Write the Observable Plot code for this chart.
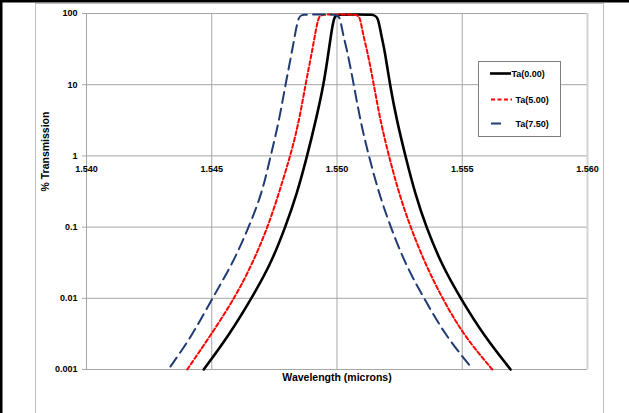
<!DOCTYPE html>
<html><head><meta charset="utf-8">
<script src="https://cdn.jsdelivr.net/npm/d3@7"></script>
<script src="https://cdn.jsdelivr.net/npm/@observablehq/plot@0.6"></script>
<style>
html,body{margin:0;padding:0;background:#fff;}
#chart{position:relative;width:629px;height:413px;overflow:hidden;background:#fff}
#chart svg{display:block}
</style>
</head><body><div id="chart"></div>
<script>
// ---- data ----
const seriesNames = ["Ta(0.00)", "Ta(5.00)", "Ta(7.50)"];
const seriesColors = ["#000000", "#ff0000", "#1f3b73"];

const ta000_wl = [1.54468, 1.54568, 1.54659, 1.54735, 1.54794, 1.54841, 1.54881, 1.54914, 1.54947, 1.54967, 1.54976, 1.54988, 1.55000,
                  1.55070, 1.55145, 1.55164, 1.55176, 1.55191, 1.55211, 1.55240, 1.55273, 1.55311, 1.55356, 1.55417, 1.55493, 1.55586, 1.55693];
const ta000_T  = [0.001, 0.003, 0.01, 0.03, 0.1, 0.3, 1, 3, 10, 30, 50, 90, 97,
                  97, 97, 90, 50, 30, 10, 3, 1, 0.3, 0.1, 0.03, 0.01, 0.003, 0.001];

const ta500_wl = [1.54402, 1.54495, 1.54591, 1.54661, 1.54724, 1.54768, 1.54814, 1.54848, 1.54874, 1.54901, 1.54912, 1.54926, 1.54938,
                  1.55008, 1.55078, 1.55092, 1.55104, 1.55121, 1.55147, 1.55174, 1.55207, 1.55247, 1.55293, 1.55353, 1.55420, 1.55506, 1.55620];
const ta500_T  = [0.001, 0.003, 0.01, 0.03, 0.1, 0.3, 1, 3, 10, 30, 50, 90, 97,
                  97, 97, 90, 50, 30, 10, 3, 1, 0.3, 0.1, 0.03, 0.01, 0.003, 0.001];

const ta750_wl = [1.54335, 1.54422, 1.54502, 1.54582, 1.54648, 1.54701, 1.54735, 1.54768, 1.54794, 1.54821, 1.54832, 1.54846, 1.54860,
                  1.54930, 1.54998, 1.55012, 1.55024, 1.55041, 1.55067, 1.55094, 1.55127, 1.55167, 1.55214, 1.55273, 1.55347, 1.55433, 1.55533];
const ta750_T  = [0.0011, 0.003, 0.01, 0.03, 0.1, 0.3, 1, 3, 10, 30, 50, 90, 97,
                  97, 97, 90, 50, 30, 10, 3, 1, 0.3, 0.1, 0.03, 0.01, 0.003, 0.0011];

const xTicks = [1.540, 1.545, 1.550, 1.555, 1.560];
const xTickLabels = ["1.540", "1.545", "1.550", "1.555", "1.560"];
const yTicks = [0.001, 0.01, 0.1, 1, 10, 100];
const yTickLabels = ["0.001", "0.01", "0.1", "1", "10", "100"];

const xTitle = "Wavelength (microns)";
const yTitle = "% Transmission";

// ---- build tables ----
const toRows = (wl, T, name) => wl.map((w, i) => ({wl: w, T: T[i], series: name}));
const s0 = toRows(ta000_wl, ta000_T, seriesNames[0]);
const s1 = toRows(ta500_wl, ta500_T, seriesNames[1]);
const s2 = toRows(ta750_wl, ta750_T, seriesNames[2]);

const font = "'Liberation Sans', Arial, sans-serif";
const grid = "#a6a6a6";
const crv = "basis";

const plot = Plot.plot({
  width: 629, height: 413,
  marginLeft: 86, marginRight: 42, marginTop: 13, marginBottom: 44,
  style: {fontFamily: font, fontSize: "9px", fontWeight: "bold", background: "white", color: "black"},
  x: {domain: [1.540, 1.560], axis: null},
  y: {type: "log", domain: [0.001, 100], axis: null},
  marks: [
    Plot.gridX(xTicks, {stroke: grid, strokeOpacity: 1}),
    Plot.gridY(yTicks, {stroke: grid, strokeOpacity: 1}),
    Plot.ruleX([1.560], {stroke: "#d4d4d4", strokeWidth: 2}),
    Plot.ruleY([0.001], {stroke: grid}),
    Plot.axisY(yTicks, {tickSize: 4, tickPadding: 5, stroke: grid, label: null,
      tickFormat: d => yTickLabels[yTicks.indexOf(d)], fontWeight: "bold", fontSize: 9, fill: "black"}),
    Plot.text(xTicks, {x: d => d, y: () => 1, dy: 13, text: (d, i) => xTickLabels[i],
      fontWeight: "bold", fontSize: 9, fill: "black"}),
    Plot.text([xTitle], {frameAnchor: "bottom", dy: 11, text: d => d, fontSize: 10.5, fontWeight: "bold", fill: "black"}),
    Plot.text([yTitle], {frameAnchor: "left", dx: -41, rotate: -90, text: d => d, fontSize: 10.5, fontWeight: "bold", fill: "black"}),
    Plot.line(s0, {x: "wl", y: "T", stroke: seriesColors[0], strokeWidth: 2.6, curve: crv}),
    Plot.line(s1, {x: "wl", y: "T", stroke: seriesColors[1], strokeWidth: 2, strokeDasharray: "4,2.5", curve: crv}),
    Plot.line(s2, {x: "wl", y: "T", stroke: seriesColors[2], strokeWidth: 2, strokeDasharray: "11,6", curve: crv})
  ]
});
document.getElementById("chart").appendChild(plot);

// ---- chart frame and legend ----
const svg = d3.select(plot);
svg.append("rect").attr("x", 35.5).attr("y", 3.5).attr("width", 568).attr("height", 430)
  .attr("fill", "none").attr("stroke", "#bfbfbf");
svg.append("rect").attr("x", 0).attr("y", 0).attr("width", 629).attr("height", 2.5).attr("fill", "black");
svg.append("rect").attr("x", 0).attr("y", 0).attr("width", 2.5).attr("height", 413).attr("fill", "black");

const lg = svg.append("g");
lg.append("rect").attr("x", 478.5).attr("y", 61.5).attr("width", 82).attr("height", 75)
  .attr("fill", "white").attr("stroke", "#7f7f7f");
const legendRows = [
  {y: 73.5, x1: 490, x2: 511, tx: 511.5, dash: null, w: 2.6},
  {y: 99.5, x1: 491, x2: 512, tx: 515.5, dash: "4,2.5", w: 2},
  {y: 123.5, x1: 491, x2: 501, tx: 515.5, dash: null, w: 2}
];
legendRows.forEach((r, i) => {
  lg.append("line").attr("x1", r.x1).attr("x2", r.x2).attr("y1", r.y).attr("y2", r.y)
    .attr("stroke", seriesColors[i]).attr("stroke-width", r.w)
    .attr("stroke-dasharray", r.dash);
  lg.append("text").attr("x", r.tx).attr("y", r.y).attr("dy", "0.35em")
    .attr("text-anchor", "start")
    .attr("font-family", font).attr("font-size", 9).attr("font-weight", "bold")
    .attr("fill", "black").text(seriesNames[i]);
});
</script>
</body></html>
